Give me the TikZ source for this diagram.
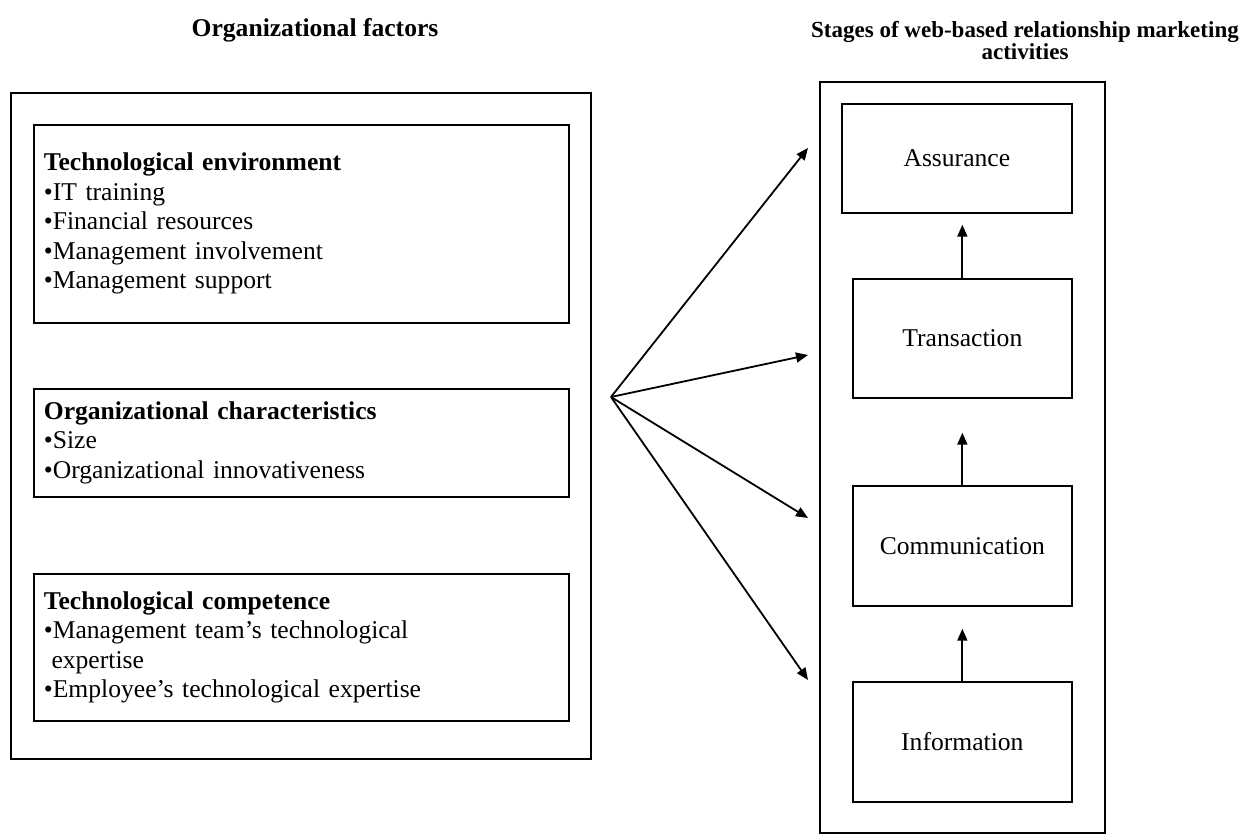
\documentclass[tikz,border=0pt]{standalone}
\usepackage{fontspec}
\setmainfont{Liberation Serif}
\usetikzlibrary{arrows.meta}
\tikzset{
  x=0.5pt, y=-0.5pt,
  frame/.style={draw, line width=0.85pt},
  factorbox/.style={draw, line width=0.85pt, anchor=north west, align=left,
    text width=257.5pt, inner xsep=5pt, inner ysep=0pt, minimum width=267.5pt},
  stagebox/.style={draw, line width=0.85pt, anchor=north west, inner sep=0pt},
  arr/.style={line width=0.9pt, -{Triangle[length=6pt,width=5pt]}},
  ttl/.style={font=\bfseries, align=center, inner sep=0pt},
}
\begin{document}
\begin{tikzpicture}[every node/.style={font=\fontsize{12.8}{14.75}\selectfont}]
\useasboundingbox (0,0) rectangle (1244,834);
% titles
\node[ttl, font=\fontsize{12.8}{14.75}\selectfont\bfseries] (t1) at (315,30) {Organizational factors};
\node[ttl, font=\fontsize{11.5}{11}\selectfont\bfseries] (t2) at (1025,41) {Stages of web-based relationship marketing\\activities};
% outer frames
\node[frame, anchor=north west, minimum width=290pt, minimum height=333pt, inner sep=0pt] (left) at (10,92) {};
\node[frame, anchor=north west, minimum width=142.5pt, minimum height=375.5pt, inner sep=0pt] (right) at (819,81) {};
% factor boxes
\node[factorbox, minimum height=99pt] (b1) at (33,124) {\textbf{Technological environment}\\•IT training\\•Financial resources\\•Management involvement\\•Management support};
\node[factorbox, minimum height=54pt] (b2) at (33,388) {\textbf{Organizational characteristics}\\•Size\\•Organizational innovativeness};
\node[factorbox, minimum height=73.5pt] (b3) at (33,573) {\textbf{Technological competence}\\•Management team’s technological\\\hspace*{0.3em}expertise\\•Employee’s technological expertise};
% stage boxes
\node[stagebox, minimum width=115pt, minimum height=54.5pt] (assur) at (841,103) {Assurance};
\node[stagebox, minimum width=109.5pt, minimum height=59.5pt] (trans) at (852,278) {Transaction};
\node[stagebox, minimum width=109.5pt, minimum height=60pt] (comm) at (852,485) {Communication};
\node[stagebox, minimum width=109.5pt, minimum height=60pt] (info) at (852,681) {Information};
% fan arrows
\coordinate (hub) at (611,397);
\coordinate (e1) at (808,148);
\coordinate (e2) at (808,355);
\coordinate (e3) at (808,518);
\coordinate (e4) at (808,680);
\draw[arr] (hub) -- (e1);
\draw[arr] (hub) -- (e2);
\draw[arr] (hub) -- (e3);
\draw[arr] (hub) -- (e4);
% vertical arrows
\draw[arr, shorten >=5.5pt] (trans.north) -- (trans.north |- assur.south);
\draw[arr, shorten >=17pt] (comm.north) -- (comm.north |- trans.south);
\draw[arr, shorten >=11pt] (info.north) -- (info.north |- comm.south);
\end{tikzpicture}
\end{document}
